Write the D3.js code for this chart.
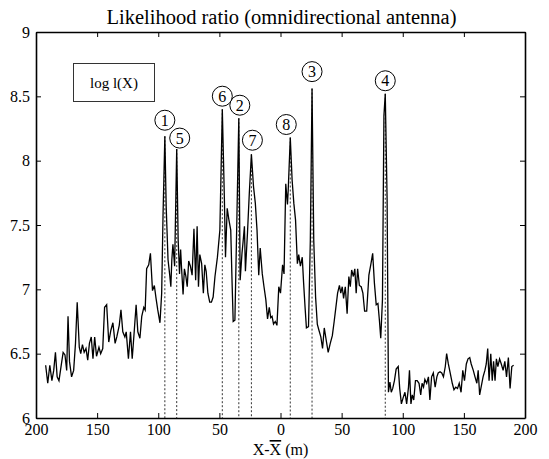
<!DOCTYPE html>
<html>
<head>
<meta charset="utf-8">
<script src="https://cdn.jsdelivr.net/npm/d3@7"></script>
<style>
  body { margin: 0; background: #fff; }
  svg { font-family: "Liberation Serif", "Times New Roman", serif; }
  .axis path, .axis line { stroke: #000; }
  .axis text { font-size: 16px; fill: #000; }
</style>
</head>
<body>
<script>
// distance to the estimated position (m) and log likelihood ratio
var distance = [
  -192.1, -190.4, -188.7, -187.0, -185.5, -184.1, -182.7, -181.2, -179.2, -177.8,
  -176.3, -174.9, -173.8, -172.6, -170.9, -169.2, -167.7, -166.3, -164.6, -163.4,
  -162.0, -160.6, -159.1, -157.7, -156.3, -154.8, -153.4, -152.0, -150.5, -148.5,
  -147.1, -145.4, -143.9, -142.2, -140.5, -138.8, -137.1, -135.3, -133.9, -131.9,
  -130.5, -129.0, -127.3, -126.2, -124.4, -122.7, -121.3, -119.6, -118.1, -116.7,
  -115.0, -113.5, -111.8, -110.7, -109.5, -107.8, -106.4, -104.7, -103.2, -101.8,
  -100.4, -98.6, -97.2, -96.1, -94.6, -93.5, -92.0, -90.6, -89.7, -88.9,
  -88.0, -86.6, -84.9, -83.7, -82.6, -81.7, -80.9, -79.7, -78.6, -77.4,
  -76.3, -75.1, -73.7, -72.3, -70.8, -69.4, -68.2, -67.1, -66.0, -64.5,
  -63.1, -61.9, -60.8, -59.4, -57.9, -56.5, -55.1, -53.6, -51.6, -49.6,
  -47.6, -45.9, -45.0, -43.6, -42.2, -40.7, -39.6, -38.7, -37.3, -35.6,
  -34.1, -33.0, -31.5, -30.7, -29.5, -28.7, -27.0, -25.5, -23.8, -22.1,
  -20.6, -19.2, -17.8, -16.6, -14.9, -13.5, -12.0, -10.6, -9.2, -8.0,
  -6.9, -5.7, -4.3, -2.9, -1.4, 0.0, 1.7, 2.9, 4.3, 5.7,
  6.3, 8.0, 9.5, 10.9, 12.3, 13.8, 14.9, 16.3, 17.8, 18.9,
  20.1, 21.2, 22.9, 24.4, 25.8, 27.2, 28.7, 30.1, 31.5, 33.0,
  34.4, 35.8, 37.3, 39.0, 40.7, 42.4, 43.9, 45.3, 46.7, 48.2,
  49.3, 50.5, 51.6, 53.0, 54.5, 55.9, 57.1, 58.2, 59.6, 60.8,
  61.9, 63.1, 64.5, 66.0, 67.4, 68.8, 70.5, 72.3, 74.0, 75.4,
  76.8, 78.3, 79.7, 80.9, 82.0, 83.4, 84.6, 85.7, 87.2, 88.3,
  89.5, 90.6, 91.8, 93.2, 94.6, 96.3, 97.5, 98.9, 100.4, 101.8,
  103.2, 104.7, 105.5, 106.7, 107.8, 109.0, 110.4, 111.8, 113.3, 114.7,
  115.8, 117.0, 118.1, 119.6, 121.0, 122.2, 123.6, 125.0, 126.5, 127.9,
  129.0, 130.5, 131.9, 133.3, 134.8, 135.9, 137.3, 138.8, 140.5, 141.9,
  143.4, 144.8, 146.2, 147.7, 149.1, 150.5, 152.0, 153.4, 154.8, 156.0,
  157.7, 159.1, 160.6, 161.7, 162.9, 164.3, 165.7, 167.2, 168.3, 169.5,
  170.6, 172.0, 173.2, 174.3, 175.5, 176.6, 177.8, 179.2, 180.6, 182.1,
  183.5, 184.9, 186.4, 187.8, 189.2, 190.7
]
var logRatio = [
  6.41, 6.27, 6.41, 6.29, 6.37, 6.51, 6.32, 6.29, 6.42, 6.51,
  6.49, 6.37, 6.79, 6.44, 6.32, 6.37, 6.58, 6.90, 6.55, 6.50,
  6.57, 6.51, 6.54, 6.45, 6.58, 6.63, 6.46, 6.63, 6.48, 6.55,
  6.50, 6.54, 6.86, 6.88, 6.59, 6.68, 6.74, 6.58, 6.63, 6.72,
  6.84, 6.67, 6.63, 6.67, 6.46, 6.67, 6.46, 6.68, 6.88, 6.67,
  6.62, 6.79, 6.86, 6.84, 7.16, 7.19, 7.28, 6.99, 7.03, 6.93,
  6.84, 6.74, 6.97, 7.57, 8.19, 7.64, 7.23, 7.11, 7.02, 7.23,
  7.35, 7.18, 8.09, 7.38, 7.12, 7.31, 7.16, 6.96, 7.16, 7.10,
  7.02, 7.22, 7.18, 7.11, 7.47, 7.07, 7.49, 7.02, 7.27, 7.20,
  6.97, 7.19, 7.14, 6.97, 6.90, 6.90, 6.94, 7.10, 7.25, 7.46,
  8.40, 7.70, 7.25, 7.63, 7.54, 7.46, 7.05, 6.75, 6.76, 7.59,
  8.33, 7.07, 7.28, 7.36, 7.49, 7.14, 7.44, 7.75, 8.05, 7.80,
  7.67, 7.46, 7.11, 7.32, 7.12, 7.02, 6.92, 6.77, 6.86, 6.78,
  6.79, 6.73, 6.75, 6.72, 7.02, 6.97, 7.19, 7.12, 7.82, 7.66,
  7.77, 8.18, 7.85, 7.67, 7.54, 7.20, 7.27, 7.18, 7.25, 7.05,
  6.86, 6.70, 6.71, 7.38, 8.56, 7.38, 6.94, 6.73, 6.68, 6.63,
  6.54, 6.70, 6.61, 6.51, 6.58, 6.64, 6.75, 6.86, 6.97, 7.03,
  6.97, 7.02, 6.93, 7.02, 6.81, 7.10, 7.02, 7.15, 7.10, 7.16,
  6.97, 7.16, 7.03, 7.02, 6.97, 6.83, 6.83, 7.11, 7.20, 7.28,
  7.05, 6.88, 6.89, 6.76, 6.62, 6.92, 8.35, 8.52, 7.70, 6.20,
  6.28, 6.20, 6.23, 6.29, 6.38, 6.40, 6.23, 6.11, 6.16, 6.20,
  6.11, 6.24, 6.37, 6.11, 6.18, 6.14, 6.29, 6.29, 6.27, 6.18,
  6.27, 6.24, 6.30, 6.27, 6.32, 6.14, 6.32, 6.35, 6.24, 6.32,
  6.35, 6.36, 6.35, 6.32, 6.40, 6.50, 6.42, 6.35, 6.27, 6.22,
  6.24, 6.23, 6.27, 6.20, 6.37, 6.29, 6.42, 6.46, 6.47, 6.42,
  6.37, 6.32, 6.27, 6.37, 6.18, 6.25, 6.32, 6.37, 6.42, 6.54,
  6.29, 6.50, 6.29, 6.44, 6.29, 6.46, 6.40, 6.46, 6.42, 6.37,
  6.44, 6.32, 6.47, 6.23, 6.40, 6.41
]

// numbered peaks
var peakLabels = ['1', '2', '3', '4', '5', '6', '7', '8']
var peakX = [-94.6, -34.1, 25.8, 85.7, -84.9, -47.6, -23.8, 8.0]
var peakY = [8.19, 8.33, 8.56, 8.52, 8.09, 8.40, 8.05, 8.18]
// circle centre offset from the peak top, px
var labelDx = [0, 1, 0, 0, 3, 0, 1, -4]
var labelDy = [-16, -13, -17, -13, -11, -13, -14, -13]

var xTicks = [-200, -150, -100, -50, 0, 50, 100, 150, 200]
var yTicks = [6, 6.5, 7, 7.5, 8, 8.5, 9]

var serif = '"Liberation Serif", "Times New Roman", serif'

var margin = {top: 32, right: 24, bottom: 41, left: 36},
  width = 549 - margin.left - margin.right,
  height = 459 - margin.top - margin.bottom

var x = d3.scaleLinear().domain([-200, 200]).range([0, width])
var y = d3.scaleLinear().domain([6, 9]).range([height, 0])

var svg = d3.select('body').append('svg')
  .attr('width', 549)
  .attr('height', 459)

svg.append('text')
  .attr('x', margin.left + width / 2 + 1)
  .attr('y', 24)
  .attr('text-anchor', 'middle')
  .style('font-size', '20.5px')
  .text('Likelihood ratio (omnidirectional antenna)')

var g = svg.append('g')
  .attr('transform', 'translate(' + margin.left + ',' + margin.top + ')')

// dotted drop lines under the peaks
g.selectAll('line.drop')
  .data(peakX)
  .enter().append('line')
  .attr('class', 'drop')
  .attr('x1', function (d) { return x(d) })
  .attr('x2', function (d) { return x(d) })
  .attr('y1', function (d, i) { return y(peakY[i]) })
  .attr('y2', height)
  .attr('stroke', '#333')
  .attr('stroke-width', 1)
  .attr('stroke-dasharray', '2,2')

var line = d3.line()
  .x(function (d, i) { return x(distance[i]) })
  .y(function (d) { return y(d) })

g.append('path')
  .datum(logRatio)
  .attr('d', line)
  .attr('fill', 'none')
  .attr('stroke', '#000')
  .attr('stroke-width', 1.3)

// circled numbers
var marks = g.selectAll('g.mark')
  .data(peakLabels)
  .enter().append('g')
  .attr('class', 'mark')
  .attr('transform', function (d, i) {
    return 'translate(' + (x(peakX[i]) + labelDx[i]) + ',' + (y(peakY[i]) + labelDy[i]) + ')'
  })

marks.append('circle')
  .attr('r', 10)
  .attr('fill', '#fff')
  .attr('stroke', '#000')
  .attr('stroke-width', 1)

marks.append('text')
  .attr('text-anchor', 'middle')
  .attr('dy', '0.35em')
  .style('font-size', '16px')
  .text(function (d) { return d })

// axes with inward ticks, box style
var xAxis = d3.axisBottom(x).tickValues(xTicks).tickSizeInner(-5).tickSizeOuter(0).tickPadding(6)
  .tickFormat(function (d) { return Math.abs(d) })
var xAxisTop = d3.axisTop(x).tickValues(xTicks).tickSizeInner(-5).tickSizeOuter(0).tickFormat('')
var yAxis = d3.axisLeft(y).tickValues(yTicks).tickSizeInner(-5).tickSizeOuter(0).tickPadding(6)
  .tickFormat(function (d) { return String(d) })
var yAxisRight = d3.axisRight(y).tickValues(yTicks).tickSizeInner(-5).tickSizeOuter(0).tickFormat('')

g.append('g').attr('class', 'x axis')
  .attr('transform', 'translate(0,' + height + ')')
  .call(xAxis)
g.append('g').attr('class', 'x axis')
  .call(xAxisTop)
g.append('g').attr('class', 'y axis')
  .call(yAxis)
g.append('g').attr('class', 'y axis')
  .attr('transform', 'translate(' + width + ',0)')
  .call(yAxisRight)

g.selectAll('.axis').attr('font-family', serif).attr('font-size', 16)
g.selectAll('.axis path').attr('stroke-width', 1.6)

// x axis label, X minus X-bar
var xl = svg.append('text')
  .attr('x', margin.left + width / 2)
  .attr('y', 455)
  .attr('text-anchor', 'middle')
  .style('font-size', '16px')
xl.append('tspan').text('X-')
xl.append('tspan').style('text-decoration', 'overline').text('X')
xl.append('tspan').text(' (m)')

// legend box
svg.append('rect')
  .attr('x', 73.5)
  .attr('y', 63.5)
  .attr('width', 81)
  .attr('height', 38)
  .attr('fill', '#fff')
  .attr('stroke', '#333')
  .attr('stroke-width', 1)

svg.append('text')
  .attr('x', 114)
  .attr('y', 88)
  .attr('text-anchor', 'middle')
  .style('font-size', '15px')
  .text('log l(X)')
</script>
</body>
</html>
